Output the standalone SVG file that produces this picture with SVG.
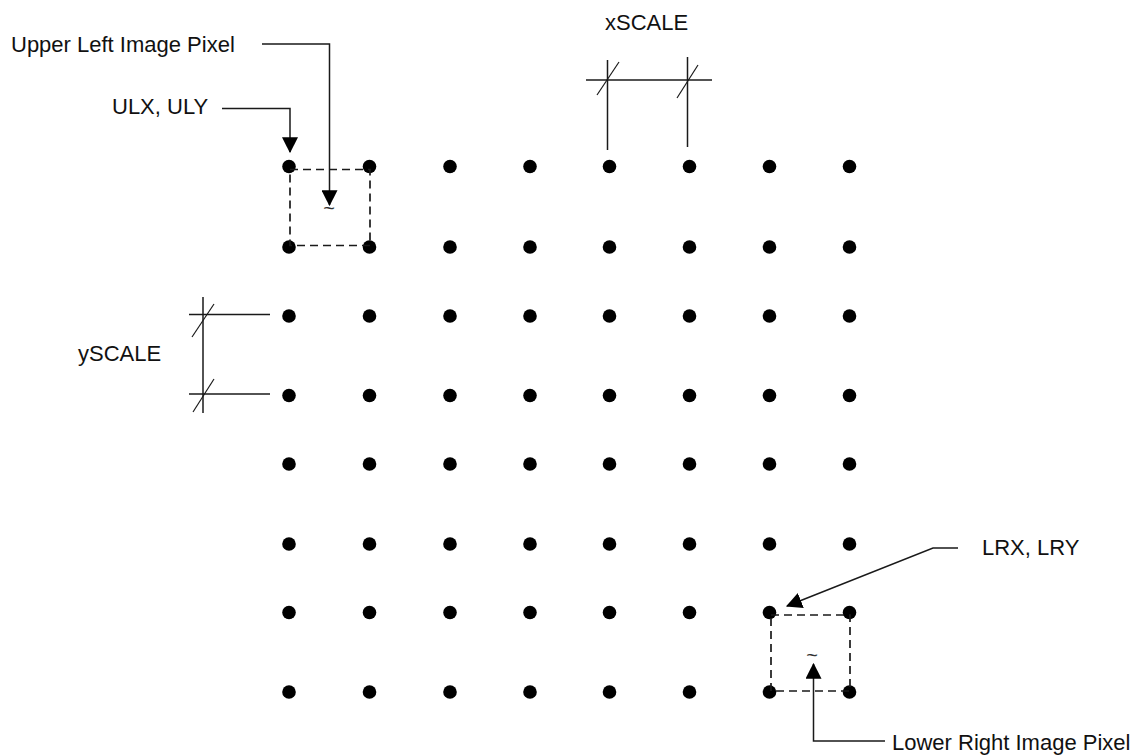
<svg xmlns="http://www.w3.org/2000/svg" width="1144" height="756" viewBox="0 0 1144 756">
<style>
.lbl{font-family:"Liberation Sans",Arial,sans-serif;font-size:22px;fill:#111}
.til{font-family:"Liberation Sans",Arial,sans-serif;font-size:20px;fill:#333;text-anchor:middle}
.ln{stroke:#1a1a1a;stroke-width:1.5;fill:none}
.tk{stroke:#1a1a1a;stroke-width:1.2;fill:none}
.dash{stroke:#1a1a1a;stroke-width:1.7;fill:none;stroke-dasharray:8,5}
.dot{fill:#000}
</style>
<defs>
<marker id="ah" markerUnits="userSpaceOnUse" markerWidth="16" markerHeight="16" viewBox="0 0 14 14" refX="13" refY="7" orient="auto">
<path d="M0,0 L14,7 L0,14 Z" fill="#000"/>
</marker>
</defs>
<rect width="1144" height="756" fill="#fff"/>

<g id="grid">
<g id="row1"><circle class="dot" cx="289" cy="166.5" r="6.8"/><circle class="dot" cx="369.5" cy="166.5" r="6.8"/><circle class="dot" cx="450" cy="166.5" r="6.8"/><circle class="dot" cx="530" cy="166.5" r="6.8"/><circle class="dot" cx="609.5" cy="166.5" r="6.8"/><circle class="dot" cx="689.5" cy="166.5" r="6.8"/><circle class="dot" cx="769.5" cy="166.5" r="6.8"/><circle class="dot" cx="849.5" cy="166.5" r="6.8"/></g>
<g id="row2"><circle class="dot" cx="289" cy="247" r="6.8"/><circle class="dot" cx="369.5" cy="247" r="6.8"/><circle class="dot" cx="450" cy="247" r="6.8"/><circle class="dot" cx="530" cy="247" r="6.8"/><circle class="dot" cx="609.5" cy="247" r="6.8"/><circle class="dot" cx="689.5" cy="247" r="6.8"/><circle class="dot" cx="769.5" cy="247" r="6.8"/><circle class="dot" cx="849.5" cy="247" r="6.8"/></g>
<g id="row3"><circle class="dot" cx="289" cy="316" r="6.8"/><circle class="dot" cx="369.5" cy="316" r="6.8"/><circle class="dot" cx="450" cy="316" r="6.8"/><circle class="dot" cx="530" cy="316" r="6.8"/><circle class="dot" cx="609.5" cy="316" r="6.8"/><circle class="dot" cx="689.5" cy="316" r="6.8"/><circle class="dot" cx="769.5" cy="316" r="6.8"/><circle class="dot" cx="849.5" cy="316" r="6.8"/></g>
<g id="row4"><circle class="dot" cx="289" cy="395.5" r="6.8"/><circle class="dot" cx="369.5" cy="395.5" r="6.8"/><circle class="dot" cx="450" cy="395.5" r="6.8"/><circle class="dot" cx="530" cy="395.5" r="6.8"/><circle class="dot" cx="609.5" cy="395.5" r="6.8"/><circle class="dot" cx="689.5" cy="395.5" r="6.8"/><circle class="dot" cx="769.5" cy="395.5" r="6.8"/><circle class="dot" cx="849.5" cy="395.5" r="6.8"/></g>
<g id="row5"><circle class="dot" cx="289" cy="464" r="6.8"/><circle class="dot" cx="369.5" cy="464" r="6.8"/><circle class="dot" cx="450" cy="464" r="6.8"/><circle class="dot" cx="530" cy="464" r="6.8"/><circle class="dot" cx="609.5" cy="464" r="6.8"/><circle class="dot" cx="689.5" cy="464" r="6.8"/><circle class="dot" cx="769.5" cy="464" r="6.8"/><circle class="dot" cx="849.5" cy="464" r="6.8"/></g>
<g id="row6"><circle class="dot" cx="289" cy="544" r="6.8"/><circle class="dot" cx="369.5" cy="544" r="6.8"/><circle class="dot" cx="450" cy="544" r="6.8"/><circle class="dot" cx="530" cy="544" r="6.8"/><circle class="dot" cx="609.5" cy="544" r="6.8"/><circle class="dot" cx="689.5" cy="544" r="6.8"/><circle class="dot" cx="769.5" cy="544" r="6.8"/><circle class="dot" cx="849.5" cy="544" r="6.8"/></g>
<g id="row7"><circle class="dot" cx="289" cy="612.5" r="6.8"/><circle class="dot" cx="369.5" cy="612.5" r="6.8"/><circle class="dot" cx="450" cy="612.5" r="6.8"/><circle class="dot" cx="530" cy="612.5" r="6.8"/><circle class="dot" cx="609.5" cy="612.5" r="6.8"/><circle class="dot" cx="689.5" cy="612.5" r="6.8"/><circle class="dot" cx="769.5" cy="612.5" r="6.8"/><circle class="dot" cx="849.5" cy="612.5" r="6.8"/></g>
<g id="row8"><circle class="dot" cx="289" cy="692" r="6.8"/><circle class="dot" cx="369.5" cy="692" r="6.8"/><circle class="dot" cx="450" cy="692" r="6.8"/><circle class="dot" cx="530" cy="692" r="6.8"/><circle class="dot" cx="609.5" cy="692" r="6.8"/><circle class="dot" cx="689.5" cy="692" r="6.8"/><circle class="dot" cx="769.5" cy="692" r="6.8"/><circle class="dot" cx="849.5" cy="692" r="6.8"/></g>
</g>

<g id="ul-pixel">
<rect class="dash" x="290" y="169.5" width="80" height="76"/>
<text class="til" x="329" y="215">~</text>
</g>
<g id="lr-pixel">
<rect class="dash" x="771" y="615" width="79" height="76"/>
<text class="til" x="812" y="662">~</text>
</g>

<g id="labels">
<text class="lbl" x="11" y="52">Upper Left Image Pixel</text>
<text class="lbl" x="112" y="114">ULX, ULY</text>
<text class="lbl" x="605" y="30">xSCALE</text>
<text class="lbl" x="78" y="361">ySCALE</text>
<text class="lbl" x="982" y="555">LRX, LRY</text>
<text class="lbl" x="892" y="750">Lower Right Image Pixel</text>
</g>

<g id="dimensions">
<line class="ln" x1="586" y1="80" x2="712" y2="80"/>
<line class="ln" x1="607.5" y1="60" x2="607.5" y2="150"/>
<line class="ln" x1="687.5" y1="57" x2="687.5" y2="147"/>
<line class="tk" x1="597" y1="95" x2="619" y2="62"/>
<line class="tk" x1="677" y1="98" x2="698" y2="65"/>
<line class="ln" x1="203" y1="297" x2="203" y2="413"/>
<line class="ln" x1="189" y1="314.5" x2="270" y2="314.5"/>
<line class="ln" x1="189" y1="394" x2="270" y2="394"/>
<line class="tk" x1="192" y1="337" x2="214" y2="304"/>
<line class="tk" x1="193" y1="412" x2="214" y2="379"/>
</g>

<g id="connectors">
<path class="ln" d="M262,44 H329.5 V205" marker-end="url(#ah)"/>
<path class="ln" d="M222,108.5 H290 V152" marker-end="url(#ah)"/>
<path class="ln" d="M958,548 H933 L787,606" marker-end="url(#ah)"/>
<path class="ln" d="M885,741 H813.5 V664" marker-end="url(#ah)"/>
</g>
</svg>
